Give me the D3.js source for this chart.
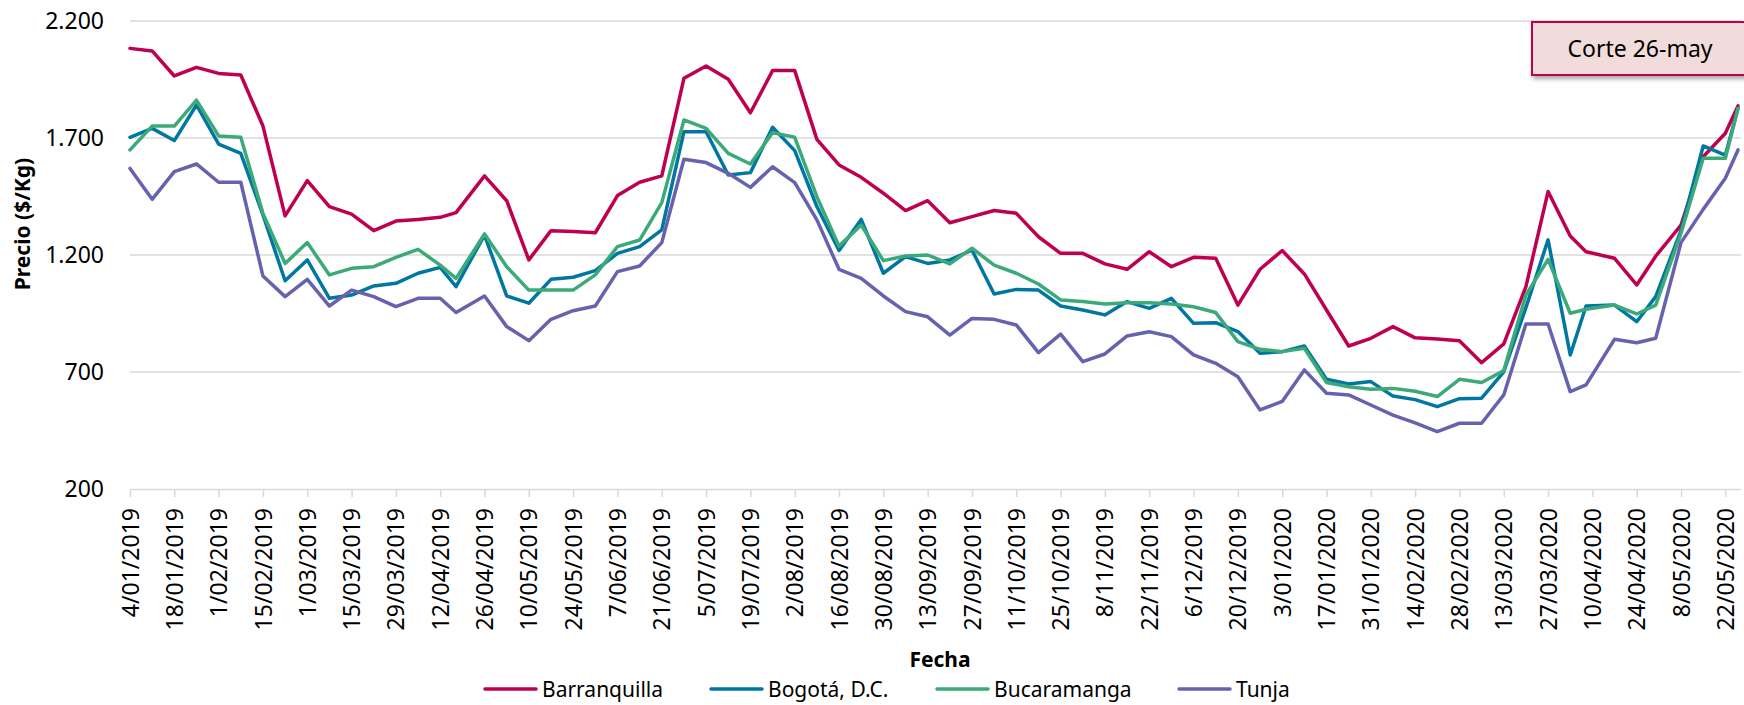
<!DOCTYPE html>
<html>
<head>
<meta charset="utf-8">
<script src="https://cdn.jsdelivr.net/npm/d3@7"></script>
<style>
    body { margin: 0; background: #ffffff; }
    svg { display: block; font-family: "Noto Sans", "Open Sans", sans-serif; }
</style>
</head>
<body>
<svg id="chart"></svg>
<script>
// fechas de corte semanal (viernes, o el dia habil anterior cuando es festivo)
const dates = [
    "04/01/2019","11/01/2019","18/01/2019","25/01/2019","01/02/2019","08/02/2019","15/02/2019","22/02/2019",
    "01/03/2019","08/03/2019","15/03/2019","22/03/2019","29/03/2019","05/04/2019","12/04/2019","17/04/2019",
    "26/04/2019","03/05/2019","10/05/2019","17/05/2019","24/05/2019","31/05/2019","07/06/2019","14/06/2019",
    "21/06/2019","28/06/2019","05/07/2019","12/07/2019","19/07/2019","26/07/2019","02/08/2019","09/08/2019",
    "16/08/2019","23/08/2019","30/08/2019","06/09/2019","13/09/2019","20/09/2019","27/09/2019","04/10/2019",
    "11/10/2019","18/10/2019","25/10/2019","01/11/2019","08/11/2019","15/11/2019","22/11/2019","29/11/2019",
    "06/12/2019","13/12/2019","20/12/2019","27/12/2019","03/01/2020","10/01/2020","17/01/2020","24/01/2020",
    "31/01/2020","07/02/2020","14/02/2020","21/02/2020","28/02/2020","06/03/2020","13/03/2020","20/03/2020",
    "27/03/2020","03/04/2020","08/04/2020","17/04/2020","24/04/2020","30/04/2020","08/05/2020","15/05/2020",
    "22/05/2020","26/05/2020"
];

const barranquilla = [
    2083,2072,1965,2002,1976,1969,1751,1367,1518,1407,1375,1304,1345,1352,1361,1381,
    1538,1432,1179,1304,1300,1295,1454,1511,1538,1955,2008,1951,1808,1988,1988,1694,
    1585,1532,1464,1390,1432,1338,1364,1390,1378,1278,1207,1207,1162,1139,1214,1150,
    1190,1186,986,1139,1219,1119,965,811,844,894,846,841,834,740,820,1065,
    1471,1281,1214,1186,1072,1195,1328,1620,1720,1837
];
const bogota = [
    1703,1741,1689,1841,1674,1634,1371,1090,1179,1015,1029,1068,1079,1122,1147,1065,
    1285,1025,994,1096,1105,1133,1207,1236,1307,1727,1727,1542,1552,1746,1646,1407,
    1219,1352,1122,1193,1164,1179,1221,1033,1053,1050,982,965,944,1001,972,1015,
    908,911,873,780,787,811,669,649,659,597,582,552,586,588,701,975,
    1265,773,982,986,915,1022,1305,1666,1627,1827
];
const bucaramanga = [
    1649,1751,1751,1862,1709,1703,1378,1164,1253,1115,1143,1150,1190,1224,1157,1100,
    1290,1150,1050,1050,1050,1115,1236,1264,1424,1777,1741,1634,1589,1723,1703,1449,
    1238,1328,1176,1196,1200,1162,1229,1157,1122,1076,1008,1001,991,996,996,991,
    979,954,830,797,787,801,655,637,626,630,618,595,669,655,706,1029,
    1181,951,968,986,948,986,1293,1613,1613,1826
];
const tunja = [
    1570,1438,1556,1589,1511,1511,1110,1022,1096,982,1050,1022,979,1015,1015,954,
    1025,894,834,925,962,982,1129,1153,1253,1609,1595,1549,1489,1577,1509,1350,
    1139,1100,1025,958,936,858,929,925,901,783,862,744,777,854,872,851,
    773,737,680,538,574,709,609,602,559,516,483,445,481,481,602,905,
    905,616,645,840,825,844,1253,1395,1528,1649
];

const seriesNames = ["Barranquilla", "Bogotá, D.C.", "Bucaramanga", "Tunja"];
const seriesColors = ["#bf0050", "#0077a2", "#3caa78", "#6762ae"];

// etiquetas del eje X (cada dos semanas)
const tickLabels = [
    "4/01/2019","18/01/2019","1/02/2019","15/02/2019","1/03/2019","15/03/2019","29/03/2019","12/04/2019",
    "26/04/2019","10/05/2019","24/05/2019","7/06/2019","21/06/2019","5/07/2019","19/07/2019","2/08/2019",
    "16/08/2019","30/08/2019","13/09/2019","27/09/2019","11/10/2019","25/10/2019","8/11/2019","22/11/2019",
    "6/12/2019","20/12/2019","3/01/2020","17/01/2020","31/01/2020","14/02/2020","28/02/2020","13/03/2020",
    "27/03/2020","10/04/2020","24/04/2020","8/05/2020","22/05/2020"
];
const yTicks = [200, 700, 1200, 1700, 2200];
const noteText = "Corte 26-may";

class PriceChart {
    constructor(_config) {
        this.config = {
            parentElement: _config.parentElement,
            containerWidth: _config.containerWidth || 1744,
            containerHeight: _config.containerHeight || 705,
            margin: {top: 21, right: 3, bottom: 216, left: 130}
        };
        this.initVis();
    }

    initVis() {
        let vis = this;
        const parse = d3.utcParse("%d/%m/%Y");

        vis.svg = d3.select(vis.config.parentElement)
            .attr('width', vis.config.containerWidth)
            .attr('height', vis.config.containerHeight);

        vis.width = vis.config.containerWidth - vis.config.margin.left - vis.config.margin.right;
        vis.height = vis.config.containerHeight - vis.config.margin.top - vis.config.margin.bottom;

        vis.chart = vis.svg.append('g')
            .attr('transform', `translate(${vis.config.margin.left}, ${vis.config.margin.top})`);

        vis.parsedDates = dates.map(parse);
        vis.tickDates = tickLabels.map(d => parse(d.padStart(10, "0")));

        // la ultima fecha (26-may) queda casi en el borde derecho
        vis.xScale = d3.scaleUtc()
            .domain([vis.parsedDates[0], vis.parsedDates[vis.parsedDates.length - 1]])
            .range([0, vis.width - 3]);

        vis.yScale = d3.scaleLinear()
            .domain([200, 2200])
            .range([vis.height, 0]);

        const locale = d3.formatLocale({decimal: ",", thousands: ".", grouping: [3], currency: ["$", ""]});
        vis.yFormat = locale.format(",d");

        vis.series = [barranquilla, bogota, bucaramanga, tunja].map((vals, i) => ({
            name: seriesNames[i],
            color: seriesColors[i],
            values: vals.map((v, j) => ({date: vis.parsedDates[j], value: v}))
        }));

        vis.updateVis();
    }

    updateVis() {
        let vis = this;

        // lineas de cuadricula horizontales
        vis.chart.append('g')
            .selectAll('line')
            .data(yTicks.slice(1))
            .join('line')
                .attr('x1', 0)
                .attr('x2', vis.width)
                .attr('y1', d => vis.yScale(d))
                .attr('y2', d => vis.yScale(d))
                .attr('stroke', '#d9d9d9')
                .attr('stroke-width', 1.5);

        // eje Y
        const yAxis = vis.chart.append('g')
            .call(d3.axisLeft(vis.yScale).tickValues(yTicks).tickFormat(vis.yFormat).tickSize(0).tickPadding(26));
        yAxis.select('.domain').remove();
        yAxis.selectAll('text')
            .attr('font-size', 23)
            .attr('font-family', '"Noto Sans", sans-serif')
            .attr('fill', '#000');

        // eje X
        const xAxis = vis.chart.append('g')
            .attr('transform', `translate(0, ${vis.height})`)
            .call(d3.axisBottom(vis.xScale).tickValues(vis.tickDates)
                .tickFormat(d3.utcFormat("%-d/%m/%Y")).tickSizeInner(8).tickSizeOuter(0));
        xAxis.select('.domain')
            .attr('d', `M0,0.5H${vis.width}`)
            .attr('stroke', '#d9d9d9')
            .attr('stroke-width', 1.5);
        xAxis.selectAll('.tick line')
            .attr('stroke', '#d9d9d9')
            .attr('stroke-width', 1.5);
        xAxis.selectAll('text')
            .attr('font-size', 23)
            .attr('font-family', '"Noto Sans", sans-serif')
            .attr('fill', '#000')
            .attr('text-anchor', 'end')
            .attr('dy', '0.35em')
            .attr('transform', 'translate(0, 19) rotate(-90)')
            .attr('x', 0)
            .attr('y', 0);

        // series
        const line = d3.line()
            .x(d => vis.xScale(d.date))
            .y(d => vis.yScale(d.value));

        vis.chart.append('g')
            .selectAll('path')
            .data(vis.series)
            .join('path')
                .attr('d', d => line(d.values))
                .attr('fill', 'none')
                .attr('stroke', d => d.color)
                .attr('stroke-width', 3.5)
                .attr('stroke-linejoin', 'round')
                .attr('stroke-linecap', 'round');

        // titulos de ejes
        vis.svg.append('text')
            .attr('transform', 'translate(22, 224) rotate(-90)')
            .attr('text-anchor', 'middle')
            .attr('dominant-baseline', 'central')
            .attr('font-size', 21)
            .attr('font-weight', 'bold')
            .text('Precio ($/Kg)');

        vis.svg.append('text')
            .attr('x', 940)
            .attr('y', 659)
            .attr('text-anchor', 'middle')
            .attr('dominant-baseline', 'central')
            .attr('font-size', 21)
            .attr('font-weight', 'bold')
            .text('Fecha');

        // leyenda
        const legendX = [485, 711, 937, 1179];
        const legend = vis.svg.append('g')
            .selectAll('g')
            .data(vis.series)
            .join('g')
                .attr('transform', (d, i) => `translate(${legendX[i]}, 689)`);
        legend.append('line')
            .attr('x1', 0).attr('x2', 51)
            .attr('stroke', d => d.color)
            .attr('stroke-width', 3.5)
            .attr('stroke-linecap', 'round');
        legend.append('text')
            .attr('x', 57)
            .attr('dominant-baseline', 'central')
            .attr('font-size', 21)
            .text(d => d.name);

        // nota de corte
        const defs = vis.svg.append('defs');
        defs.append('filter').attr('id', 'shadow')
            .attr('x', '-10%').attr('y', '-20%').attr('width', '130%').attr('height', '160%')
            .append('feDropShadow')
                .attr('dx', 2).attr('dy', 3).attr('stdDeviation', 2)
                .attr('flood-color', '#000').attr('flood-opacity', 0.35);

        const note = vis.svg.append('g');
        note.append('rect')
            .attr('x', 1532)
            .attr('y', 22)
            .attr('width', 230)
            .attr('height', 53)
            .attr('fill', '#f2dcdb')
            .attr('stroke', '#bf0050')
            .attr('stroke-width', 2)
            .attr('filter', 'url(#shadow)');
        note.append('text')
            .attr('x', 1640)
            .attr('y', 48)
            .attr('text-anchor', 'middle')
            .attr('dominant-baseline', 'central')
            .attr('font-size', 23)
            .attr('fill', '#000')
            .text(noteText);
    }
}

new PriceChart({parentElement: '#chart'});
</script>
</body>
</html>
